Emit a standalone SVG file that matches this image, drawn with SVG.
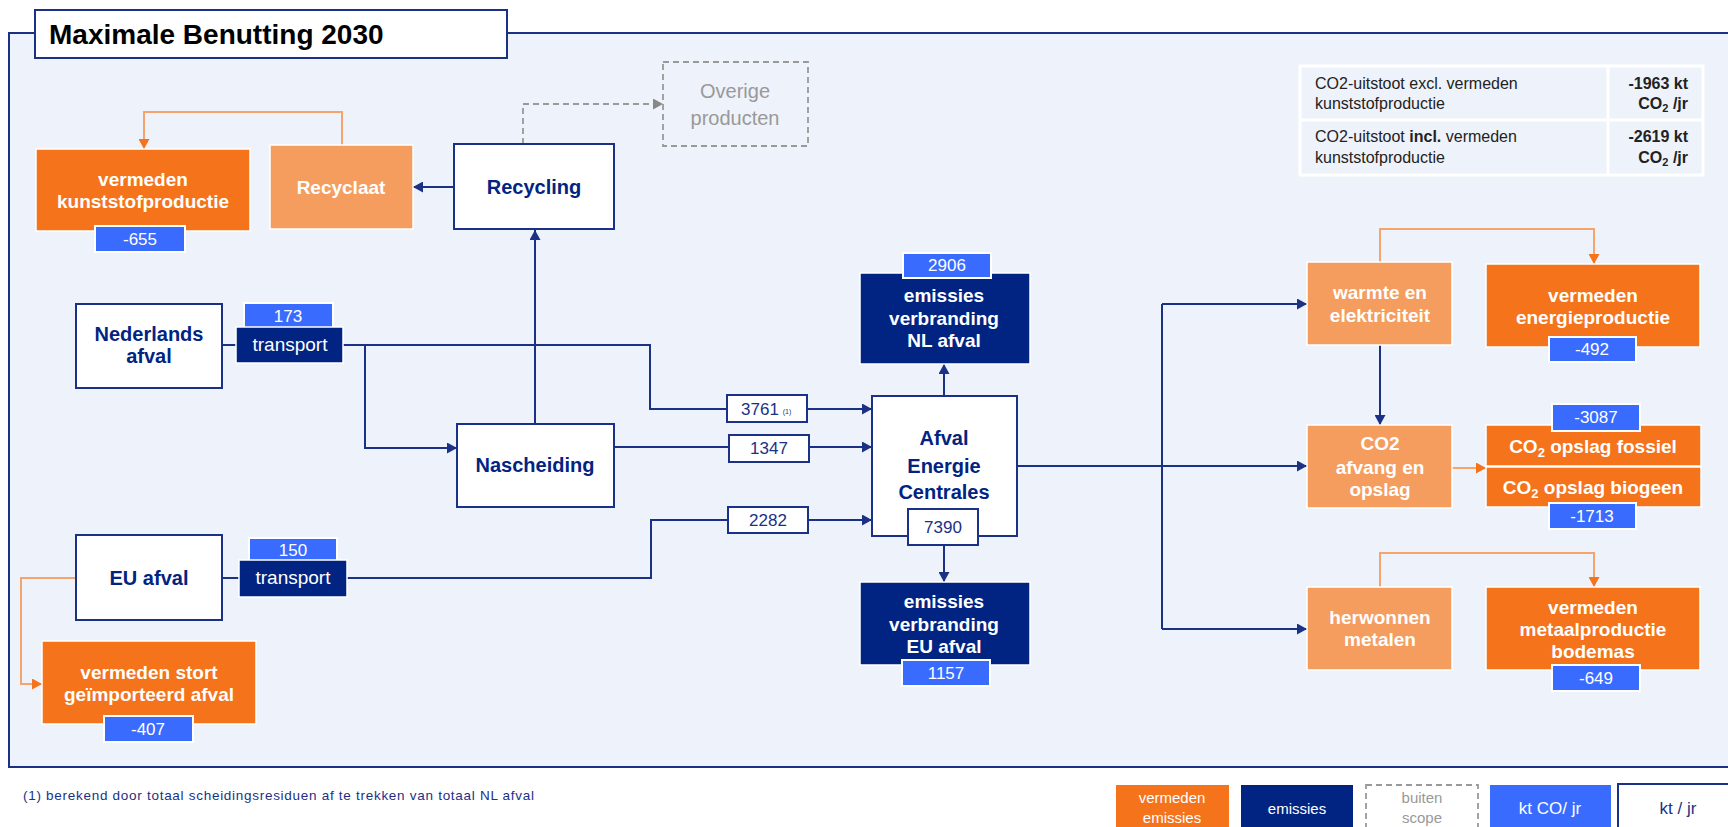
<svg xmlns="http://www.w3.org/2000/svg" width="1728" height="827" viewBox="0 0 1728 827">
<defs>
<style>
.panel{fill:#eef2fa;stroke:#1a3185;stroke-width:2}
.wbox{fill:#ffffff;stroke:#1a3185;stroke-width:2}
.navy{fill:#012482;stroke:#ffffff;stroke-width:1.5}
.org{fill:#f4731b;stroke:#ffffff;stroke-width:1.5}
.lorg{fill:#f59d5e;stroke:#ffffff;stroke-width:1.5}
.blue{fill:#3a6bff;stroke:#ffffff;stroke-width:2}
.lbl{fill:#ffffff;stroke:#1a3185;stroke-width:2}
.dash{fill:none;stroke:#999999;stroke-width:1.8;stroke-dasharray:6 4}
.c{fill:none;stroke:#1a3185;stroke-width:2}
.co{fill:none;stroke:#f5a46e;stroke-width:2}
.cd{fill:none;stroke:#999999;stroke-width:1.8;stroke-dasharray:6 4}
text{font-family:"Liberation Sans",Arial,sans-serif}
.bw{font-weight:bold;fill:#ffffff;font-size:19px;text-anchor:middle}
.bn{font-weight:bold;fill:#012482;font-size:20px;text-anchor:middle}
.nw{fill:#ffffff;font-size:17px;text-anchor:middle}
.nn{fill:#1a3185;font-size:17px;text-anchor:middle}
.tr{fill:#ffffff;font-size:19px;text-anchor:middle}
.tb{fill:#222222;font-size:16px}
.lg{font-size:15px;text-anchor:middle}
</style>
<marker id="an" markerWidth="10" markerHeight="11" refX="10" refY="5.5" orient="auto" markerUnits="userSpaceOnUse"><path d="M0,0 L10,5.5 L0,11 z" fill="#1a3185"/></marker>
<marker id="ao" markerWidth="10" markerHeight="11" refX="10" refY="5.5" orient="auto" markerUnits="userSpaceOnUse"><path d="M0,0 L10,5.5 L0,11 z" fill="#f4731b"/></marker>
<marker id="ag" markerWidth="10" markerHeight="11" refX="10" refY="5.5" orient="auto" markerUnits="userSpaceOnUse"><path d="M0,0 L10,5.5 L0,11 z" fill="#888888"/></marker>
</defs>
<rect width="1728" height="827" fill="#ffffff"/>
<rect class="panel" x="9" y="33" width="1740" height="734"/>
<g id="title">
<rect x="35" y="10" width="472" height="48" fill="#ffffff" stroke="#1a3185" stroke-width="2"/>
<text x="49" y="44" font-size="28" font-weight="bold" fill="#000000">Maximale Benutting 2030</text>
</g>

<g id="connectors">
<polyline class="c" points="222,345 236,345"/>
<polyline class="c" points="343,345 650,345 650,409 727,409"/>
<polyline class="c" points="365,345 365,448 457,448" marker-end="url(#an)"/>
<polyline class="c" points="807,409 872,409" marker-end="url(#an)"/>
<polyline class="c" points="535,424 535,230" marker-end="url(#an)"/>
<polyline class="c" points="454,187 413,187" marker-end="url(#an)"/>
<polyline class="c" points="614,447 729,447"/>
<polyline class="c" points="809,447 872,447" marker-end="url(#an)"/>
<polyline class="c" points="222,578 239,578"/>
<polyline class="c" points="347,578 651,578 651,520 728,520"/>
<polyline class="c" points="808,520 872,520" marker-end="url(#an)"/>
<polyline class="c" points="944,396 944,364" marker-end="url(#an)"/>
<polyline class="c" points="944,545 944,582" marker-end="url(#an)"/>
<polyline class="c" points="1017,466 1307,466" marker-end="url(#an)"/>
<polyline class="c" points="1162,304 1162,629"/>
<polyline class="c" points="1162,304 1307,304" marker-end="url(#an)"/>
<polyline class="c" points="1162,629 1307,629" marker-end="url(#an)"/>
<polyline class="c" points="1380,345 1380,425" marker-end="url(#an)"/>
<polyline class="co" points="342,145 342,112 144,112 144,149" marker-end="url(#ao)"/>
<polyline class="co" points="76,578 21,578 21,684 42,684" marker-end="url(#ao)"/>
<polyline class="co" points="1380,262 1380,229 1594,229 1594,264" marker-end="url(#ao)"/>
<polyline class="co" points="1452,468 1486,468" marker-end="url(#ao)"/>
<polyline class="co" points="1380,587 1380,553 1594,553 1594,587" marker-end="url(#ao)"/>
<polyline class="cd" points="523,144 523,104 663,104" marker-end="url(#ag)"/>
</g>

<g id="vermeden-kunststof">
<rect class="org" x="36" y="149" width="214" height="82"/>
<text class="bw" x="143" y="186">vermeden</text>
<text class="bw" x="143" y="208">kunststofproductie</text>
<rect class="blue" x="95" y="226" width="90" height="26"/>
<text class="nw" x="140" y="245">-655</text>
</g>
<g id="recyclaat">
<rect class="lorg" x="270" y="145" width="143" height="84"/>
<text class="bw" x="341" y="194" font-size="20">Recyclaat</text>
</g>
<g id="recycling">
<rect class="wbox" x="454" y="144" width="160" height="85"/>
<text class="bn" x="534" y="194">Recycling</text>
</g>
<g id="overige">
<rect class="dash" x="663" y="62" width="145" height="84"/>
<text x="735" y="98" font-size="20" fill="#999999" text-anchor="middle">Overige</text>
<text x="735" y="125" font-size="20" fill="#999999" text-anchor="middle">producten</text>
</g>
<g id="nederlands-afval">
<rect class="wbox" x="76" y="304" width="146" height="84"/>
<text class="bn" x="149" y="341">Nederlands</text>
<text class="bn" x="149" y="363">afval</text>
</g>
<g id="nl-transport">
<rect class="blue" x="244" y="303" width="89" height="25"/>
<text class="nw" x="288" y="322">173</text>
<rect class="navy" x="236" y="327" width="107" height="36"/>
<text class="tr" x="290" y="351">transport</text>
</g>
<g id="nascheiding">
<rect class="wbox" x="457" y="424" width="157" height="83"/>
<text class="bn" x="535" y="472">Nascheiding</text>
</g>
<g id="eu-afval">
<rect class="wbox" x="76" y="535" width="146" height="85"/>
<text class="bn" x="149" y="585">EU afval</text>
</g>
<g id="eu-transport">
<rect class="blue" x="249" y="538" width="88" height="25"/>
<text class="nw" x="293" y="556">150</text>
<rect class="navy" x="239" y="560" width="108" height="37"/>
<text class="tr" x="293" y="584">transport</text>
</g>
<g id="vermeden-stort">
<rect class="org" x="42" y="641" width="214" height="83"/>
<text class="bw" x="149" y="679">vermeden stort</text>
<text class="bw" x="149" y="701">geïmporteerd afval</text>
<rect class="blue" x="104" y="716" width="89" height="26"/>
<text class="nw" x="148" y="735">-407</text>
</g>
<g id="flow-3761">
<rect class="lbl" x="727" y="395" width="80" height="27"/>
<text class="nn" x="760" y="415">3761</text>
<text x="787" y="414" font-size="7" fill="#1a3185" text-anchor="middle">(1)</text>
</g>
<g id="flow-1347">
<rect class="lbl" x="729" y="435" width="80" height="27"/>
<text class="nn" x="769" y="454">1347</text>
</g>
<g id="flow-2282">
<rect class="lbl" x="728" y="507" width="80" height="26"/>
<text class="nn" x="768" y="526">2282</text>
</g>
<g id="aec">
<rect class="wbox" x="872" y="396" width="145" height="140"/>
<text class="bn" x="944" y="445" font-size="24">Afval</text>
<text class="bn" x="944" y="473" font-size="24">Energie</text>
<text class="bn" x="944" y="499" font-size="24">Centrales</text>
<rect class="lbl" x="908" y="509" width="70" height="36"/>
<text class="nn" x="943" y="533">7390</text>
</g>
<g id="emissies-nl">
<rect class="navy" x="860" y="273" width="170" height="91"/>
<text class="bw" x="944" y="302" font-size="20">emissies</text>
<text class="bw" x="944" y="325" font-size="20">verbranding</text>
<text class="bw" x="944" y="347" font-size="20">NL afval</text>
<rect class="blue" x="903" y="253" width="88" height="25"/>
<text class="nw" x="947" y="271">2906</text>
</g>
<g id="emissies-eu">
<rect class="navy" x="860" y="582" width="170" height="83"/>
<text class="bw" x="944" y="608" font-size="20">emissies</text>
<text class="bw" x="944" y="631" font-size="20">verbranding</text>
<text class="bw" x="944" y="653" font-size="20">EU afval</text>
<rect class="blue" x="902" y="660" width="88" height="26"/>
<text class="nw" x="946" y="679">1157</text>
</g>
<g id="warmte">
<rect class="lorg" x="1307" y="262" width="145" height="83"/>
<text class="bw" x="1380" y="299">warmte en</text>
<text class="bw" x="1380" y="322">elektriciteit</text>
</g>
<g id="vermeden-energie">
<rect class="org" x="1486" y="264" width="214" height="83"/>
<text class="bw" x="1593" y="302">vermeden</text>
<text class="bw" x="1593" y="324">energieproductie</text>
<rect class="blue" x="1549" y="337" width="87" height="25"/>
<text class="nw" x="1592" y="355">-492</text>
</g>
<g id="co2-afvang">
<rect class="lorg" x="1307" y="425" width="145" height="83"/>
<text class="bw" x="1380" y="450" font-size="20">CO2</text>
<text class="bw" x="1380" y="474" font-size="20">afvang en</text>
<text class="bw" x="1380" y="496" font-size="20">opslag</text>
</g>
<g id="co2-opslag">
<rect class="org" x="1486" y="425" width="215" height="41"/>
<text class="bw" x="1593" y="453">CO<tspan font-size="13" dy="4">2</tspan><tspan dy="-4"> opslag fossiel</tspan></text>
<rect class="org" x="1486" y="467" width="215" height="40"/>
<text class="bw" x="1593" y="494">CO<tspan font-size="13" dy="4">2</tspan><tspan dy="-4"> opslag biogeen</tspan></text>
<rect class="blue" x="1552" y="404" width="88" height="27"/>
<text class="nw" x="1596" y="423">-3087</text>
<rect class="blue" x="1549" y="503" width="87" height="26"/>
<text class="nw" x="1592" y="522">-1713</text>
</g>
<g id="herwonnen">
<rect class="lorg" x="1307" y="587" width="145" height="83"/>
<text class="bw" x="1380" y="624">herwonnen</text>
<text class="bw" x="1380" y="646">metalen</text>
</g>
<g id="vermeden-metaal">
<rect class="org" x="1486" y="587" width="214" height="83"/>
<text class="bw" x="1593" y="614">vermeden</text>
<text class="bw" x="1593" y="636">metaalproductie</text>
<text class="bw" x="1593" y="658">bodemas</text>
<rect class="blue" x="1552" y="665" width="88" height="26"/>
<text class="nw" x="1596" y="684">-649</text>
</g>
<g id="summary-table">
<rect x="1300" y="66" width="403" height="109" fill="#eef2fa" stroke="#ffffff" stroke-width="3"/>
<line x1="1608" y1="66" x2="1608" y2="175" stroke="#ffffff" stroke-width="3"/>
<line x1="1300" y1="120" x2="1703" y2="120" stroke="#ffffff" stroke-width="3"/>
<text class="tb" x="1315" y="89">CO2-uitstoot excl. vermeden</text>
<text class="tb" x="1315" y="109">kunststofproductie</text>
<text class="tb" x="1688" y="89" text-anchor="end" font-weight="bold">-1963 kt</text>
<text class="tb" x="1688" y="109" text-anchor="end" font-weight="bold">CO<tspan font-size="11" dy="3">2</tspan><tspan dy="-3"> /jr</tspan></text>
<text class="tb" x="1315" y="142">CO2-uitstoot <tspan font-weight="bold">incl.</tspan> vermeden</text>
<text class="tb" x="1315" y="163">kunststofproductie</text>
<text class="tb" x="1688" y="142" text-anchor="end" font-weight="bold">-2619 kt</text>
<text class="tb" x="1688" y="163" text-anchor="end" font-weight="bold">CO<tspan font-size="11" dy="3">2</tspan><tspan dy="-3"> /jr</tspan></text>
</g>
<g id="footnote">
<text x="23" y="800" font-size="13.5" fill="#1a3185" textLength="511" lengthAdjust="spacing">(1) berekend door totaal scheidingsresiduen af te trekken van totaal NL afval</text>
</g>
<g id="legend">
<rect x="1116" y="785" width="113" height="50" fill="#f4731b"/>
<text class="lg" x="1172" y="803" fill="#ffffff">vermeden</text>
<text class="lg" x="1172" y="823" fill="#ffffff">emissies</text>
<rect x="1241" y="785" width="112" height="50" fill="#012482"/>
<text class="lg" x="1297" y="814" fill="#ffffff">emissies</text>
<rect class="dash" x="1366" y="785" width="112" height="50"/>
<text class="lg" x="1422" y="803" fill="#999999">buiten</text>
<text class="lg" x="1422" y="823" fill="#999999">scope</text>
<rect x="1490" y="785" width="121" height="50" fill="#3a6bff"/>
<text x="1550" y="814" font-size="17" fill="#ffffff" text-anchor="middle">kt CO/ jr</text>
<rect x="1618" y="784" width="122" height="50" fill="#ffffff" stroke="#1a3185" stroke-width="2"/>
<text x="1678" y="814" font-size="17" fill="#1a3185" text-anchor="middle">kt / jr</text>
</g>
</svg>
